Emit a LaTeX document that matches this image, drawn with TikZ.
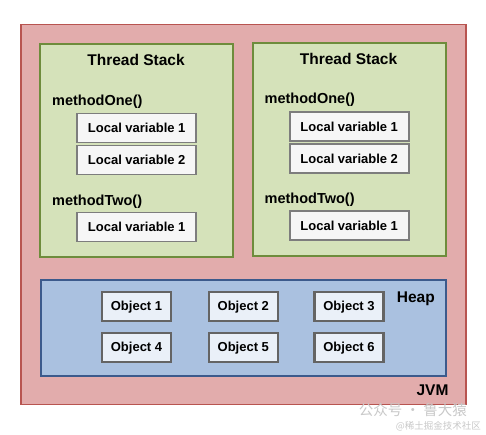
\documentclass[tikz,border=0pt]{standalone}
\usepackage{fontspec}
\setmainfont{Liberation Sans}
\newfontfamily\cjk{Noto Sans CJK SC}
\definecolor{jvmfill}{RGB}{226,172,172}
\definecolor{jvmline}{RGB}{184,84,80}
\definecolor{stackfill}{RGB}{213,226,186}
\definecolor{stackline}{RGB}{110,140,60}
\definecolor{heapfill}{RGB}{170,193,224}
\definecolor{heapline}{RGB}{60,90,140}
\definecolor{objfill}{RGB}{234,240,248}
\definecolor{objline}{RGB}{100,100,100}
\definecolor{varfill}{RGB}{246,246,246}
\definecolor{varline}{RGB}{125,125,125}
\definecolor{markgray}{RGB}{200,200,200}
\usetikzlibrary{positioning}

\begin{document}
\begin{tikzpicture}[x=1pt, y=-1pt,
  jvmbox/.style={draw=jvmline, line width=1.5pt, fill=jvmfill, minimum width=445pt, minimum height=380pt},
  stackbox/.style={draw=stackline, line width=1.8pt, fill=stackfill, minimum width=193pt, minimum height=213pt},
  heapbox/.style={draw=heapline, line width=1.8pt, fill=heapfill, minimum width=405pt, minimum height=96pt},
  varbox/.style={draw=varline, line width=1.8pt, fill=varfill, minimum width=119pt, minimum height=29pt,
    inner sep=0pt, font=\fontsize{13}{15}\selectfont\bfseries},
  objbox/.style={draw=objline, line width=2.2pt, fill=objfill, minimum width=69pt, minimum height=29pt,
    inner sep=0pt, font=\fontsize{13}{15}\selectfont\bfseries},
  titletext/.style={inner sep=0pt, font=\fontsize{15.5}{18}\selectfont\bfseries},
  methodtext/.style={inner sep=0pt, anchor=west, font=\fontsize{14.5}{17}\selectfont\bfseries}]

\useasboundingbox (0,0) rectangle (486,435);

% --- JVM ---
\node[jvmbox] (jvm) at (243.5,214.5) {};
\node[titletext] (jvmlbl) at (432.5,390) {JVM};

% --- Thread Stack 1 ---
\node[stackbox] (ts1) at (136.7,150.7) {};
\node[titletext] (ts1lbl) at (136,60) {Thread Stack};
\node[methodtext] (m11) at (52,101.7) {methodOne()};
\node[varbox] (v111) at (136.7,128) {Local variable 1};
\node[varbox] (v112) at (136.7,160) {Local variable 2};
\node[methodtext] (m12) at (52,201.7) {methodTwo()};
\node[varbox] (v121) at (136.7,227) {Local variable 1};

% --- Thread Stack 2 ---
\node[stackbox] (ts2) at (349.2,149.2) {};
\node[titletext] (ts2lbl) at (348.5,58.5) {Thread Stack};
\node[methodtext] (m21) at (264.5,100.2) {methodOne()};
\node[varbox] (v211) at (349.2,126.5) {Local variable 1};
\node[varbox] (v212) at (349.2,158.5) {Local variable 2};
\node[methodtext] (m22) at (264.5,200.2) {methodTwo()};
\node[varbox] (v221) at (349.2,225.5) {Local variable 1};

% --- Heap ---
\node[heapbox] (heap) at (243.5,327.7) {};
\node[titletext] (heaplbl) at (415.8,299) {Heap};
\node[objbox] (o1) at (136.5,306.7) {Object 1};
\node[objbox] (o2) at (243.3,306.7) {Object 2};
\node[objbox] (o3) at (349,306.7) {Object 3};
\node[objbox] (o4) at (136.5,347.7) {Object 4};
\node[objbox] (o5) at (243.3,347.7) {Object 5};
\node[objbox] (o6) at (349,347.7) {Object 6};

% --- watermark ---
\node[inner sep=0pt, anchor=east, text=markgray, font=\cjk\fontsize{14.5}{16}\selectfont] (mark1) at (467,410) {公众号 · 鲁大猿};
\node[inner sep=0pt, anchor=east, text=markgray, font=\cjk\fontsize{9.5}{11}\selectfont] (mark2) at (481,426) {@稀土掘金技术社区};

\end{tikzpicture}
\end{document}
